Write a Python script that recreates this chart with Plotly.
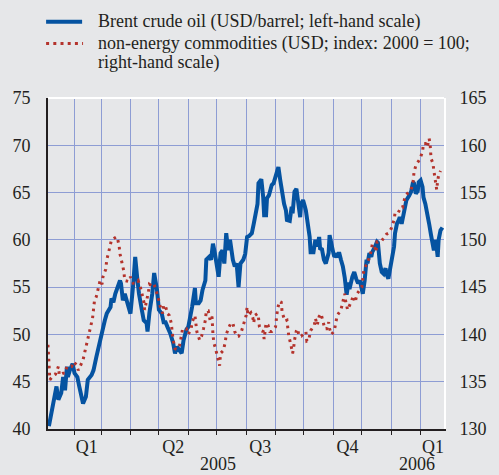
import pandas as pd
import plotly.graph_objects as go

BASE = pd.Timestamp("2005-01-01")

# Brent crude oil (USD/barrel), days since 1 Jan 2005
brent_day = [4,7,10,12,14,17,19,21,23,24,26,29,31,34,36,39,40,43,45,49,51,54,57,60,63,65,69,70,72,74,76,79,80,82,84,86,89,90,93,95,97,99,102,104,107,108,110,113,115,118,120,123,125,127,129,132,135,137,139,141,144,146,149,151,154,155,158,159,162,164,166,169,170,173,175,177,179,181,183,185,187,189,191,193,195,198,200,202,204,206,209,211,213,215,218,220,222,224,225,228,230,231,233,234,236,239,241,243,245,246,248,250,252,254,255,258,260,261,263,265,267,269,270,272,274,275,277,279,280,283,285,287,289,290,292,294,296,299,300,302,304,305,307,309,310,312,314,316,318,320,321,324,326,328,330,332,334,335,337,339,340,342,344,345,348,350,351,353,355,357,359,360,362,364,366,368,369,371,373,374,376,378,379,381,384,386,388,389,391,393,394,396,398,399,401,403,405,407,409,410,412,414,415,417,419]
brent_usd = [40.3,41.7,43.1,44.5,43.1,43.8,45.5,44.1,46.6,45.5,46.2,46.9,45.9,45.5,44.5,43.4,42.7,43.4,45.2,45.7,46.2,47.6,49.0,50.1,51.5,52.2,52.9,53.8,53.4,54.3,55.0,55.7,55.4,53.6,54.3,53.6,52.9,52.2,55.4,58.2,56.1,54.3,52.6,51.5,51.2,50.3,52.3,54.3,56.5,54.7,52.6,52.2,51.3,51.3,50.8,50.1,49.1,48.0,48.7,48.4,48.0,49.4,50.5,50.8,52.2,52.9,54.9,53.3,53.3,53.6,54.7,55.7,57.9,58.2,57.9,59.6,58.6,57.5,56.1,58.6,58.9,57.5,60.7,58.9,60.0,57.9,57.2,57.5,55.0,57.5,57.9,58.5,60.3,60.4,60.7,61.7,62.8,63.8,66.0,66.4,64.5,62.6,62.6,64.4,64.7,65.8,66.0,66.8,67.4,67.7,66.3,64.7,63.8,63.1,62.1,62.0,63.5,62.8,65.1,65.4,63.8,62.4,63.8,64.2,63.5,63.1,61.7,60.3,58.7,58.7,60.0,59.3,60.3,59.1,59.0,57.9,57.5,58.6,60.5,59.3,58.6,58.2,58.4,58.2,58.7,57.9,57.2,56.0,54.2,55.5,54.8,56.1,56.6,55.9,55.4,55.7,55.0,54.3,55.7,57.9,57.5,58.6,58.2,58.7,59.3,59.8,59.7,57.5,56.6,56.4,57.0,56.4,55.9,57.2,57.9,59.3,60.7,61.7,62.1,62.4,61.7,62.8,63.3,64.2,64.7,65.1,66.1,66.0,64.9,65.2,66.1,66.3,65.6,64.5,63.8,62.4,61.7,60.5,59.6,58.9,60.0,58.2,60.0,61.0,61.3]

# Non-energy commodities (USD; index 2000 = 100), days since 1 Jan 2005
nonenergy_day = [3,4,5,8,11,14,15,19,21,23,28,30,33,35,38,40,42,44,46,48,50,51,52,54,56,58,60,61,64,65,67,69,70,75,76,78,79,81,83,84,88,90,93,95,98,100,102,104,105,107,109,110,113,115,117,119,121,124,125,127,129,131,133,134,135,137,139,142,144,145,149,151,154,155,158,159,160,163,165,167,169,170,172,174,176,177,178,180,182,184,185,188,190,191,194,196,198,200,202,204,207,210,212,213,214,217,219,220,221,224,225,226,228,230,231,233,235,237,239,243,244,245,247,249,250,253,255,257,259,260,261,262,263,265,266,268,270,275,276,278,280,284,285,287,289,291,293,295,297,299,300,302,305,306,308,312,314,316,317,319,323,325,327,329,334,335,336,338,340,343,345,347,349,350,353,355,360,362,365,366,368,369,372,375,377,379,381,384,386,388,389,391,395,398,399,401,403,405,406,407,409,410,411,412,413,414,415,417]
nonenergy_idx = [138.9,136.8,135.2,135.6,135.8,136.6,135.7,135.9,135.9,136.6,136.6,137.1,136.8,136.2,136.9,137.3,138.2,139.1,140.0,140.8,141.7,142.6,143.5,144.0,144.9,145.7,145.3,146.1,146.9,147.9,148.7,149.6,150.0,150.3,150.3,149.4,148.5,147.6,146.7,145.7,145.6,146.1,145.4,145.4,145.7,145.2,144.4,143.5,142.6,143.5,144.5,145.3,145.1,145.3,144.7,144.0,143.1,142.2,143.1,143.0,142.2,142.0,141.2,140.2,139.4,138.5,138.4,138.9,139.8,140.6,140.6,140.0,140.6,141.3,142.0,141.2,140.3,139.4,139.8,140.6,141.5,142.5,142.5,141.5,141.9,140.0,139.1,138.4,137.6,136.7,138.0,138.3,139.2,140.0,140.8,141.2,141.2,140.3,139.8,139.8,140.3,141.2,142.0,142.9,142.0,142.3,141.8,141.2,142.0,142.2,141.8,140.8,140.4,140.3,139.5,141.2,141.0,140.3,140.3,140.8,141.7,142.6,143.5,143.4,142.3,141.4,141.5,139.8,139.0,138.5,138.0,138.5,139.4,140.4,140.6,139.8,139.8,140.3,139.3,139.4,140.4,141.0,141.7,141.0,141.9,142.2,141.5,140.6,140.6,141.3,140.6,140.0,140.4,141.1,142.0,142.6,143.5,144.3,143.5,142.6,143.5,144.1,143.4,144.3,145.0,145.8,146.7,147.2,147.6,148.4,149.5,149.5,148.7,149.8,149.9,149.9,150.6,150.7,151.2,151.5,152.1,152.8,152.8,153.4,153.4,154.3,154.8,155.1,155.3,156.1,157.1,157.9,158.5,159.3,160.2,160.2,159.8,160.7,160.2,158.6,158.1,157.3,156.5,155.6,155.3,156.3,156.8,157.3]

quarter_dates = ["2005-02-14", "2005-05-16", "2005-08-16", "2005-11-16", "2006-02-14"]
quarter_labels = ["Q1", "Q2", "Q3", "Q4", "Q1"]
year_dates = ["2005-07-02", "2006-01-28"]
year_labels = ["2005", "2006"]
left_ticks = [40, 45, 50, 55, 60, 65, 70, 75]
right_ticks = [130, 135, 140, 145, 150, 155, 160, 165]

legend_brent = "Brent crude oil (USD/barrel; left-hand scale)"
legend_ne_1 = "non-energy commodities (USD; index: 2000 = 100;"
legend_ne_2 = "right-hand scale)"

BG = "#e6e7e9"
GRID = "#8e9dd4"
TXT = "#231f20"
BLUE = "#0553a1"
RED = "#b4332c"
FONT = "Liberation Serif"
FS = 18

brent_x = [BASE + pd.Timedelta(days=d) for d in brent_day]
ne_x = [BASE + pd.Timedelta(days=d) for d in nonenergy_day]

fig = go.Figure()
fig.add_trace(go.Scatter(x=brent_x, y=brent_usd, mode="lines",
                         line=dict(color=BLUE, width=4), yaxis="y",
                         name=legend_brent, showlegend=False))
fig.add_trace(go.Scatter(x=ne_x, y=nonenergy_idx, mode="lines",
                         line=dict(color=RED, width=3, dash="2.6px,4.4px"), yaxis="y2",
                         name="non-energy commodities", showlegend=False))

W, H = 499, 475
ml, mr, mt, mb = 43, 38, 98, 46
pw, ph = W - ml - mr, H - mt - mb

def px_x(p):
    return (p - ml) / pw

def px_y(p):
    return (H - mb - p) / ph

fig.update_layout(
    width=W, height=H,
    margin=dict(l=ml, r=mr, t=mt, b=mb, pad=0),
    paper_bgcolor=BG, plot_bgcolor=BG,
    font=dict(family=FONT, size=FS, color=TXT),
    showlegend=False,
    xaxis=dict(
        type="date",
        range=["2005-01-04 01:00", "2006-02-25 16:00"],
        tickmode="array", tickvals=quarter_dates, ticktext=quarter_labels,
        ticks="", showgrid=False, zeroline=False,
        showline=True, linecolor=TXT, linewidth=1.5,
        ticklabelstandoff=1,
        tickfont=dict(family=FONT, size=FS, color=TXT),
        minor=dict(tick0="2005-01-01", dtick="M1", ticks="outside", ticklen=4,
                   tickcolor=TXT, tickwidth=1.2, showgrid=True,
                   gridcolor=GRID, gridwidth=1),
    ),
    yaxis=dict(
        range=[40, 75], tickmode="array", tickvals=left_ticks,
        showgrid=True, gridcolor=GRID, gridwidth=1, zeroline=False,
        showline=True, linecolor=TXT, linewidth=2, ticks="",
        ticklabelstandoff=12,
        tickfont=dict(family=FONT, size=FS, color=TXT),
    ),
    yaxis2=dict(
        range=[130, 165], tickmode="array", tickvals=right_ticks,
        overlaying="y", side="right", showgrid=False, zeroline=False,
        showline=True, linecolor="#ffffff", linewidth=2, ticks="",
        ticklabelstandoff=10,
        tickfont=dict(family=FONT, size=FS, color=TXT),
    ),
)

# top frame line
fig.add_shape(type="line", xref="paper", yref="paper", x0=0, x1=1, y0=1, y1=1,
              line=dict(color="#ffffff", width=2))

# year labels under the quarter labels
for d, t in zip(year_dates, year_labels):
    fig.add_annotation(x=d, xref="x", y=px_y(475), yref="paper", text=t,
                       showarrow=False, xanchor="center", yanchor="bottom",
                       borderpad=0, height=18, valign="bottom",
                       font=dict(family=FONT, size=FS, color=TXT))

# legend (drawn manually to match the layout)
fig.add_shape(type="line", xref="paper", yref="paper",
              x0=px_x(41), x1=px_x(79), y0=px_y(21.7), y1=px_y(21.7),
              line=dict(color=BLUE, width=4))
fig.add_shape(type="line", xref="paper", yref="paper",
              x0=px_x(41), x1=px_x(80), y0=px_y(43.5), y1=px_y(43.5),
              line=dict(color=RED, width=3, dash="3px,4.2px"))
for txt, yc in [(legend_brent, 21.5), (legend_ne_1, 43.5), (legend_ne_2, 62)]:
    fig.add_annotation(x=px_x(94), xref="paper", y=px_y(yc), yref="paper",
                       text=txt, showarrow=False, xanchor="left", yanchor="middle",
                       font=dict(family=FONT, size=FS, color=TXT))

fig.write_html(
    "out.html",
    config={"displayModeBar": False},
    post_script="document.body.style.margin='0';document.body.style.background='" + BG + "';",
)
